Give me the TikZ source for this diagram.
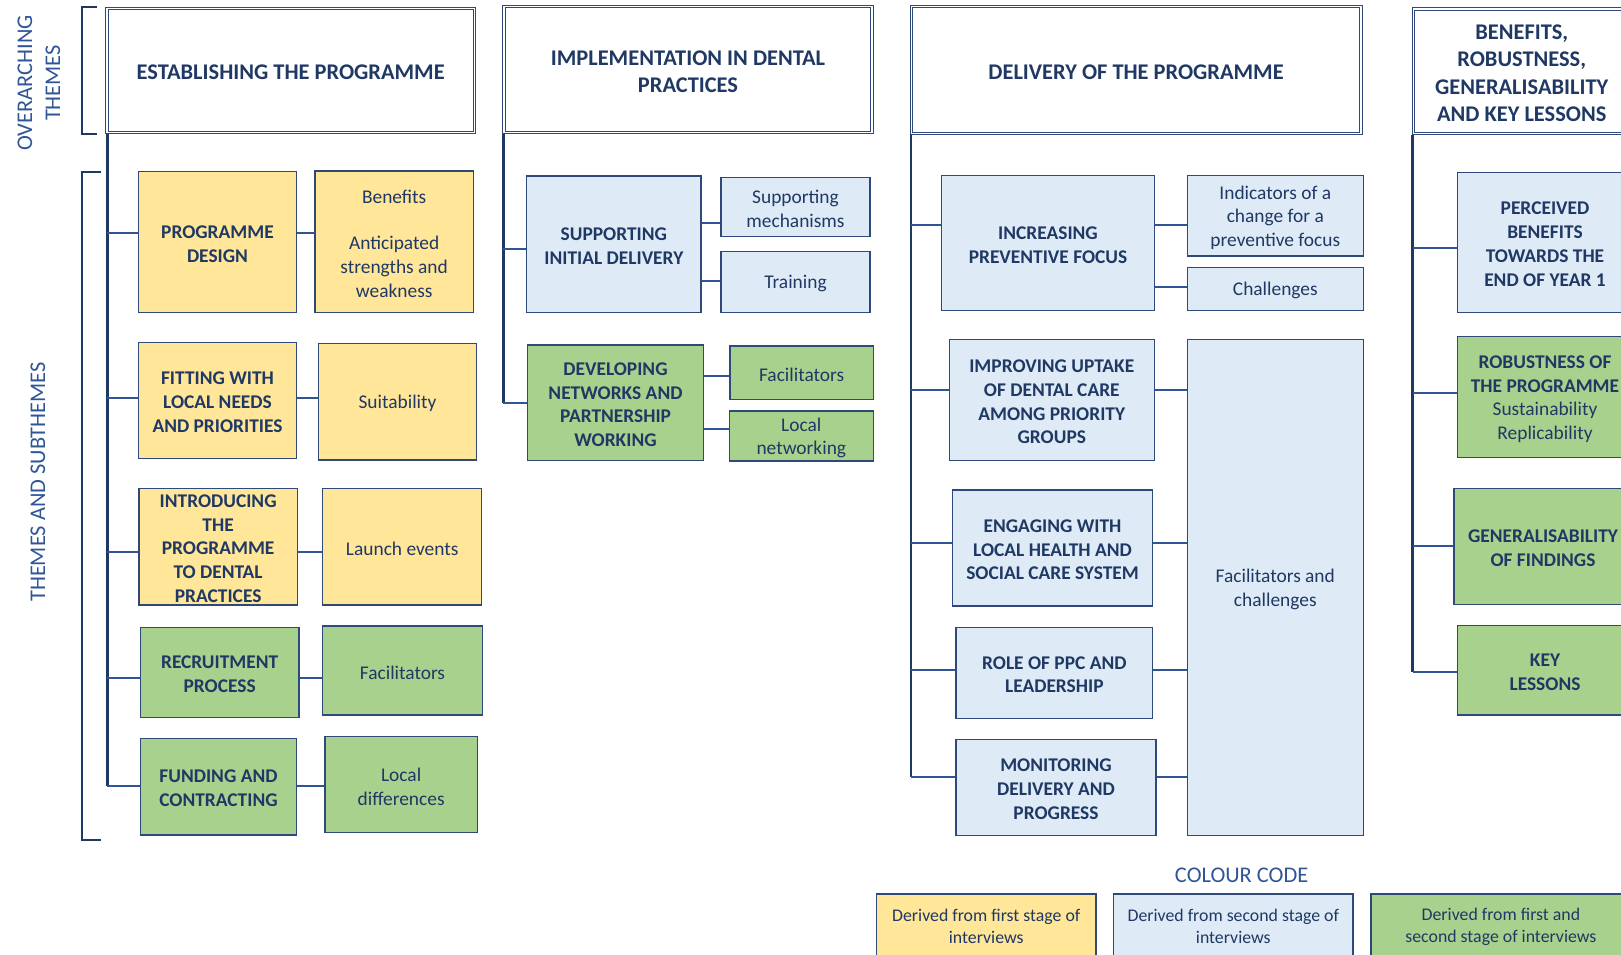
\documentclass[tikz,border=0pt]{standalone}
\usepackage{fontspec}
\setmainfont{Carlito}
\usetikzlibrary{fit}

\definecolor{navy}{HTML}{1F3864}
\definecolor{boxline}{HTML}{2F4A7A}
\definecolor{linkblue}{HTML}{2F5597}
\definecolor{yel}{HTML}{FFE699}
\definecolor{blu}{HTML}{DEEBF7}
\definecolor{grn}{HTML}{A9D18E}

% #1 box style, #2 name, #3-#6 corners, #7 text style, #8 text
\newcommand\cell[8]{%
  \node[#1, fit={(#3,#4) (#5,#6)}] (#2) {};
  \node[#7] (#2t) at (#2.center) {#8};}

\begin{document}
\begin{tikzpicture}[x=0.75pt, y=-0.75pt,
  cellbox/.style={draw=boxline, line width=1.1pt, inner sep=0pt},
  headbox/.style={draw=boxline, line width=0.7pt, double=white, double distance=1.0pt, inner sep=0pt},
  basetext/.style={text=navy, align=center, inner sep=0pt, yshift=-1.4pt},
  themetext/.style={basetext, font=\fontsize{14.55}{17.8}\selectfont\bfseries},
  subtext/.style={basetext, font=\fontsize{14.55}{17.8}\selectfont},
  headtext/.style={basetext, font=\fontsize{16.8}{20.6}\selectfont\bfseries},
  legtext/.style={basetext, font=\fontsize{13.35}{16.3}\selectfont},
  spine/.style={draw=navy, line width=1.9pt},
  link/.style={draw=linkblue, line width=1.5pt},
  bracket/.style={draw=navy, line width=1.5pt},
  sidelabel/.style={text=linkblue, align=center, inner sep=0pt, font=\fontsize{16.8}{21}\selectfont, rotate=90},
]
\useasboundingbox (0,0) rectangle (1621,954);
\clip (0,0) rectangle (1621,954);

% side labels and brackets
\node[sidelabel] (over) at (39,83) {OVERARCHING\\THEMES};
\node[sidelabel] (subl) at (38,482) {THEMES AND SUBTHEMES};
\draw[bracket] (97,7.3) -- (82,7.3) -- (82,134) -- (97,134);
\draw[bracket] (101,171.7) -- (82,171.7) -- (82,840) -- (101,840);

% overarching themes
\cell{headbox}{h1}{106.9}{8.3}{474.4}{132.7}{headtext}{ESTABLISHING THE PROGRAMME}
\cell{headbox}{h2}{504}{6.8}{872}{132.8}{headtext}{IMPLEMENTATION IN DENTAL\\PRACTICES}
\cell{headbox}{h3}{911.3}{6.8}{1360.9}{133.8}{headtext}{DELIVERY OF THE PROGRAMME}
\cell{headbox}{h4}{1413.3}{8.9}{1630.1}{133.4}{headtext}{BENEFITS,\\ROBUSTNESS,\\GENERALISABILITY\\AND KEY LESSONS}

% ---- establishing the programme
\cell{cellbox,fill=yel}{pd}{138.3}{171.7}{296.7}{312.7}{themetext}{PROGRAMME\\DESIGN}
\cell{cellbox,fill=yel}{ben}{315}{171}{473.3}{312.7}{subtext}{Benefits\\[16.9pt]Anticipated\\strengths and\\weakness}
\cell{cellbox,fill=yel}{fl}{138.3}{342.3}{296.7}{458.3}{themetext}{FITTING WITH\\LOCAL NEEDS\\AND PRIORITIES}
\cell{cellbox,fill=yel}{suit}{318.3}{343.3}{476.7}{460}{subtext}{Suitability}
\cell{cellbox,fill=yel}{intro}{139}{488.3}{297.3}{605}{themetext}{INTRODUCING\\THE\\PROGRAMME\\TO DENTAL\\PRACTICES}
\cell{cellbox,fill=yel}{launch}{322.7}{488.3}{481.7}{605}{subtext}{Launch events}
\cell{cellbox,fill=grn}{rec}{140.3}{627.7}{299}{717.3}{themetext}{RECRUITMENT\\PROCESS}
\cell{cellbox,fill=grn}{fac1}{322.3}{626}{482.7}{715}{subtext}{Facilitators}
\cell{cellbox,fill=grn}{fund}{140.3}{738.3}{296.7}{835}{themetext}{FUNDING AND\\CONTRACTING}
\cell{cellbox,fill=grn}{ldiff}{325}{736.7}{477.3}{832.7}{subtext}{Local\\differences}

\coordinate (c1top) at (107.3,134);
\coordinate (c1a) at (107.3,233.3);
\coordinate (c1b) at (107.3,398);
\coordinate (c1c) at (107.3,552.3);
\coordinate (c1d) at (107.3,678.3);
\coordinate (c1e) at (107.3,785.7);
\draw[spine] (c1top) -- (c1e);
\draw[link] (c1a) -- (c1a -| pd.west);
\draw[link] (c1a -| pd.east) -- (c1a -| ben.west);
\draw[link] (c1b) -- (c1b -| fl.west);
\draw[link] (c1b -| fl.east) -- (c1b -| suit.west);
\draw[link] (c1c) -- (c1c -| intro.west);
\draw[link] (c1c -| intro.east) -- (c1c -| launch.west);
\draw[link] (c1d) -- (c1d -| rec.west);
\draw[link] (c1d -| rec.east) -- (c1d -| fac1.west);
\draw[link] (c1e) -- (c1e -| fund.west);
\draw[link] (c1e -| fund.east) -- (c1e -| ldiff.west);

% ---- implementation in dental practices
\cell{cellbox,fill=blu}{sid}{526.7}{176}{701}{312.3}{themetext}{SUPPORTING\\INITIAL DELIVERY}
\cell{cellbox,fill=blu}{smech}{721}{177.3}{870}{236.7}{subtext}{Supporting\\mechanisms}
\cell{cellbox,fill=blu}{train}{721}{251.7}{870}{312.3}{subtext}{Training}
\cell{cellbox,fill=grn}{dev}{527.7}{345}{703.3}{460.7}{themetext}{DEVELOPING\\NETWORKS AND\\PARTNERSHIP\\WORKING}
\cell{cellbox,fill=grn}{fac2}{730}{346}{873.3}{399.3}{subtext}{Facilitators}
\cell{cellbox,fill=grn}{lnet}{729.3}{411}{873.3}{461}{subtext}{Local\\networking}

\coordinate (c2top) at (503.3,134.4);
\coordinate (c2a) at (503.3,249);
\coordinate (c2b) at (503.3,403.3);
\coordinate (k2a) at (0,222.7);
\coordinate (k2b) at (0,280.7);
\coordinate (k2c) at (0,376);
\coordinate (k2d) at (0,429.3);
\draw[spine] (c2top) -- (c2b);
\draw[link] (c2a) -- (c2a -| sid.west);
\draw[link] (c2b) -- (c2b -| dev.west);
\draw[link] (sid.east |- k2a) -- (smech.west |- k2a);
\draw[link] (sid.east |- k2b) -- (train.west |- k2b);
\draw[link] (dev.east |- k2c) -- (fac2.west |- k2c);
\draw[link] (dev.east |- k2d) -- (lnet.west |- k2d);

% ---- delivery of the programme
\cell{cellbox,fill=blu}{inc}{941.7}{175.7}{1154.3}{310.7}{themetext}{INCREASING\\PREVENTIVE FOCUS}
\cell{cellbox,fill=blu}{ind}{1187.3}{175.7}{1363.3}{256}{subtext}{Indicators of a\\change for a\\preventive focus}
\cell{cellbox,fill=blu}{chal}{1187.3}{267.3}{1363.3}{310.7}{subtext}{Challenges}
\cell{cellbox,fill=blu}{imp}{949.3}{339.3}{1154.3}{460.7}{themetext}{IMPROVING UPTAKE\\OF DENTAL CARE\\AMONG PRIORITY\\GROUPS}
\cell{cellbox,fill=blu}{fcbig}{1187.3}{339.3}{1363.3}{835.7}{subtext}{Facilitators and\\challenges}
\cell{cellbox,fill=blu}{eng}{952.3}{490}{1152.7}{606}{themetext}{ENGAGING WITH\\LOCAL HEALTH AND\\SOCIAL CARE SYSTEM}
\cell{cellbox,fill=blu}{role}{956}{627.3}{1152.7}{718.3}{themetext}{ROLE OF PPC AND\\LEADERSHIP}
\cell{cellbox,fill=blu}{mon}{956}{739.3}{1156}{835.7}{themetext}{MONITORING\\DELIVERY AND\\PROGRESS}

\coordinate (c3top) at (911,135);
\coordinate (c3a) at (911,225);
\coordinate (c3b) at (911,390);
\coordinate (c3c) at (911,542.7);
\coordinate (c3d) at (911,670);
\coordinate (c3e) at (911,776.7);
\coordinate (k3a) at (0,287);
\draw[spine] (c3top) -- (c3e);
\draw[link] (c3a) -- (c3a -| inc.west);
\draw[link] (c3b) -- (c3b -| imp.west);
\draw[link] (c3c) -- (c3c -| eng.west);
\draw[link] (c3d) -- (c3d -| role.west);
\draw[link] (c3e) -- (c3e -| mon.west);
\draw[link] (c3a -| inc.east) -- (c3a -| ind.west);
\draw[link] (inc.east |- k3a) -- (chal.west |- k3a);
\draw[link] (c3b -| imp.east) -- (c3b -| fcbig.west);
\draw[link] (c3c -| eng.east) -- (c3c -| fcbig.west);
\draw[link] (c3d -| role.east) -- (c3d -| fcbig.west);
\draw[link] (c3e -| mon.east) -- (c3e -| fcbig.west);

% ---- benefits, robustness, generalisability and key lessons
\cell{cellbox,fill=blu}{pb}{1457.3}{172.3}{1632.7}{312.3}{themetext}{PERCEIVED\\BENEFITS\\TOWARDS THE\\END OF YEAR 1}
\cell{cellbox,fill=grn}{rob}{1457.3}{336.7}{1632.7}{457.7}{subtext}{\bfseries ROBUSTNESS OF\\\bfseries THE PROGRAMME\\Sustainability\\Replicability}
\cell{cellbox,fill=grn}{gen}{1454}{488.3}{1632}{604.3}{themetext}{GENERALISABILITY\\OF FINDINGS}
\cell{cellbox,fill=grn}{key}{1457.3}{625.7}{1632.7}{715}{themetext}{KEY\\LESSONS}

\coordinate (c4top) at (1412.7,135);
\coordinate (c4a) at (1412.7,248);
\coordinate (c4b) at (1412.7,392.7);
\coordinate (c4c) at (1412.7,546);
\coordinate (c4d) at (1412.7,671.7);
\draw[spine] (c4top) -- (c4d);
\draw[link] (c4a) -- (c4a -| pb.west);
\draw[link] (c4b) -- (c4b -| rob.west);
\draw[link] (c4c) -- (c4c -| gen.west);
\draw[link] (c4d) -- (c4d -| key.west);

% ---- colour code
\node[text=linkblue, inner sep=0pt, font=\fontsize{16.8}{20}\selectfont] (cc) at (1241.6,875.6) {COLOUR CODE};
\cell{cellbox,fill=yel}{ly}{876.7}{894.2}{1095.8}{955.4}{legtext}{Derived from first stage of\\interviews}
\cell{cellbox,fill=blu}{lb}{1113.4}{894.2}{1353.2}{955.4}{legtext}{Derived from second stage of\\interviews}
\cell{cellbox,fill=grn}{lg}{1370.8}{894.2}{1631}{955.4}{legtext}{Derived from first and\\second stage of interviews}
\end{tikzpicture}
\end{document}
